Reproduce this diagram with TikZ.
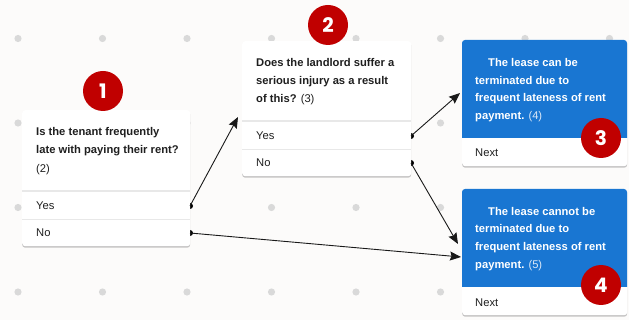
\documentclass[tikz,border=0pt]{standalone}
\usepackage{fontspec}
\setmainfont{Liberation Sans}
\newfontfamily\badgefont{Poppins}
\usetikzlibrary{shadows,arrows.meta}
\definecolor{bg}{HTML}{FCFBFA}
\definecolor{dotc}{HTML}{D9D9D9}
\definecolor{cardblue}{HTML}{1976D2}
\definecolor{badgered}{HTML}{C00000}
\definecolor{divc}{HTML}{E8E8E8}
\definecolor{numlight}{HTML}{DCE8F6}
\tikzset{
  card/.style={draw=none, fill=white, rounded corners=3pt, anchor=north west, inner sep=0pt,
    drop shadow={shadow xshift=0pt, shadow yshift=-1.5pt, opacity=0.22, fill=black}},
  txt/.style={anchor=base west, inner sep=0pt, font=\fontsize{11.2}{18}\selectfont, text=black!88},
  wtxt/.style={txt, text=white},
  badge/.style={circle, fill=badgered, minimum size=40pt, inner sep=0pt, text=white,
    font=\badgefont\bfseries\fontsize{20}{20}\selectfont},
  port/.style={fill=black, circle, inner sep=0pt, minimum size=6pt},
  conn/.style={draw=black!90, line width=0.9pt, -{Stealth[length=11pt,width=9pt,inset=1.5pt]}},
  divthick/.style={draw=divc, line width=2pt},
  divthin/.style={draw=divc, line width=1pt}
}
\begin{document}
\begin{tikzpicture}[x=1pt,y=-1pt]
\useasboundingbox (0,0) rectangle (629,320);
\fill[bg] (0,0) rectangle (629,320);
% grid dots
\foreach \i in {0,...,7}{
  \foreach \j in {0,...,3}{
    \fill[dotc] (18+84.5*\i, 38.5+84.5*\j) circle (3.6pt);
  }
}
% ports (drawn under cards)
\node[port] (p1yes) at (190,206) {};
\node[port] (p1no) at (190,233) {};
\node[port] (p2yes) at (411,136) {};
\node[port] (p2no) at (411,163) {};
% card 1
\node[card, minimum width=168pt, minimum height=136pt] (c1) at (22,110) {};
\draw[divthick] (22,191) -- (190,191);
\draw[divthin] (22,219.5) -- (190,219.5);
\node[txt] (t1a) at (36,135.5) {\bfseries Is the tenant frequently};
\node[txt] (t1b) at (36,154) {\bfseries late with paying their rent?};
\node[txt] (t1c) at (36,172.5) {(2)};
\node[txt] (t1yes) at (36,210) {Yes};
\node[txt] (t1no) at (36,237) {No};
% card 2
\node[card, minimum width=169pt, minimum height=135pt] (c2) at (242,41) {};
\draw[divthick] (242,121) -- (411,121);
\draw[divthin] (242,149.5) -- (411,149.5);
\node[txt] (t2a) at (256,66.5) {\bfseries Does the landlord suffer a};
\node[txt] (t2b) at (256,84.5) {\bfseries serious injury as a result};
\node[txt] (t2c) at (256,102.5) {\bfseries of this? \mdseries(3)};
\node[txt] (t2yes) at (256,140) {Yes};
\node[txt] (t2no) at (256,167) {No};
% card 3
\node[card, minimum width=165pt, minimum height=126pt] (c3) at (462,40) {};
\fill[cardblue] {[rounded corners=3pt] (462,138) -- (462,40) -- (627,40)} -- (627,138) -- cycle;
\node[wtxt] (t3a) at (488,66.5) {\bfseries The lease can be};
\node[wtxt] (t3b) at (475,84.5) {\bfseries terminated due to};
\node[wtxt] (t3c) at (475,102) {\bfseries frequent lateness of rent};
\node[wtxt] (t3d) at (475,120) {\bfseries payment. {\mdseries\color{numlight}(4)}};
\node[txt] (t3next) at (475,157) {Next};
% card 4
\node[card, minimum width=165pt, minimum height=126pt] (c4) at (462,189) {};
\fill[cardblue] {[rounded corners=3pt] (462,287) -- (462,189) -- (627,189)} -- (627,287) -- cycle;
\node[wtxt] (t4a) at (488,215.5) {\bfseries The lease cannot be};
\node[wtxt] (t4b) at (475,233) {\bfseries terminated due to};
\node[wtxt] (t4c) at (475,251) {\bfseries frequent lateness of rent};
\node[wtxt] (t4d) at (475,269) {\bfseries payment. {\mdseries\color{numlight}(5)}};
\node[txt] (t4next) at (475,306) {Next};
% badges
\node[badge] (b1) at (103,91) {1};
\node[badge] (b2) at (328,25) {2};
\node[badge] (b3) at (601,138) {3};
\node[badge] (b4) at (601,285) {4};
% connector targets
\coordinate (in2) at (238,117);
\coordinate (in3) at (460,93);
\coordinate (in4a) at (458,244);
\coordinate (in4b) at (461,257);
% connectors
\draw[conn] (p1yes.center) -- (in2);
\draw[conn] (p1no.center) -- (in4b);
\draw[conn] (p2yes.center) -- (in3);
\draw[conn] (p2no.center) -- (in4a);
\end{tikzpicture}
\end{document}
